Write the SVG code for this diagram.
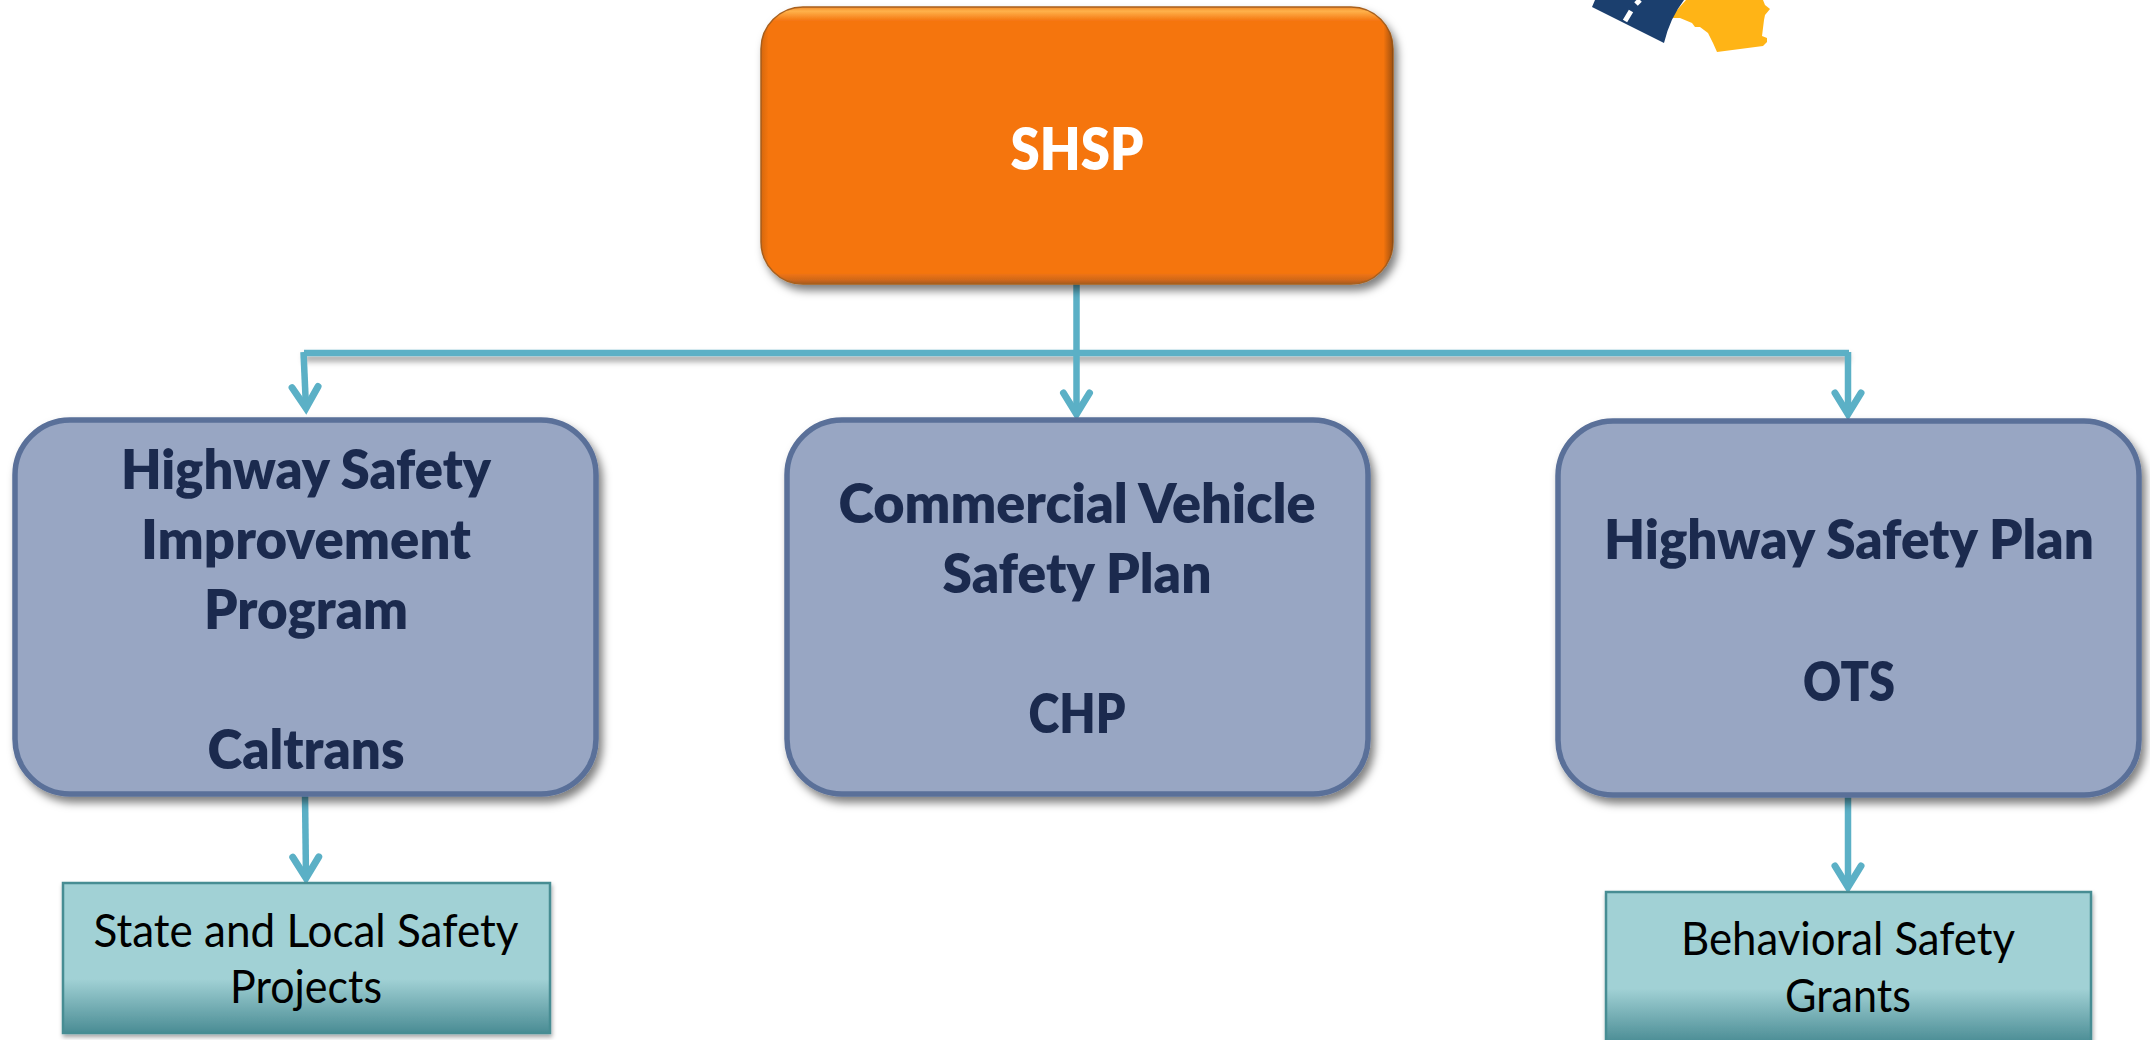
<svg xmlns="http://www.w3.org/2000/svg" width="2150" height="1040" viewBox="0 0 2150 1040">
<style>
text{font-family:"Lato","Open Sans","Liberation Sans",sans-serif;text-anchor:middle}
.h{font-weight:800;font-size:54px;fill:#1B2A4E}
.s{font-weight:400;font-size:46px;fill:#000}
.blue{fill:#98A6C3;stroke:#5A7099;stroke-width:5.5;filter:url(#sh)}
.teal{fill:url(#tg);stroke:#468D93;stroke-width:2.5;filter:url(#sh2)}
.c{fill:none;stroke:#5BB0C6;stroke-width:6.5}
</style>
<defs>
<linearGradient id="og" x1="0" y1="0" x2="0" y2="1">
<stop offset="0" stop-color="#F28A2A"/><stop offset="0.015" stop-color="#FFB24A"/><stop offset="0.05" stop-color="#F57510"/><stop offset="0.96" stop-color="#F57510"/><stop offset="0.985" stop-color="#D0681A"/><stop offset="1" stop-color="#A85A1A"/>
</linearGradient>
<linearGradient id="oe" x1="0" y1="0" x2="1" y2="0">
<stop offset="0" stop-color="#9A5010" stop-opacity="0.35"/><stop offset="0.012" stop-color="#9A5010" stop-opacity="0"/><stop offset="0.985" stop-color="#7A4010" stop-opacity="0"/><stop offset="1" stop-color="#7A4010" stop-opacity="0.7"/>
</linearGradient>
<linearGradient id="tg" x1="0" y1="0" x2="0" y2="1">
<stop offset="0" stop-color="#A1D1D5"/><stop offset="0.64" stop-color="#A1D1D5"/><stop offset="1" stop-color="#4A8C94"/>
</linearGradient>
<filter id="sh" x="-5%" y="-5%" width="112%" height="115%"><feDropShadow dx="4" dy="6" stdDeviation="4.5" flood-color="#000" flood-opacity="0.5"/></filter>
<filter id="sh2" x="-5%" y="-5%" width="110%" height="115%"><feDropShadow dx="1" dy="3" stdDeviation="2" flood-color="#000" flood-opacity="0.35"/></filter>
<filter id="shl" filterUnits="userSpaceOnUse" x="290" y="340" width="1570" height="40"><feDropShadow dx="0" dy="5" stdDeviation="3" flood-color="#000" flood-opacity="0.4"/></filter>
<marker id="ah" markerUnits="userSpaceOnUse" viewBox="-30 -18 40 36" refX="0" refY="0" markerWidth="40" markerHeight="36" orient="auto">
<path d="M-21,-13 L0,0 L-21,13" fill="none" stroke="#5BB0C6" stroke-width="7" stroke-linecap="round"/>
</marker>
</defs>
<rect width="2150" height="1040" fill="#fff"/>
<g id="logo">
<path d="M1686,0 L1670,18 L1680,18 L1692,23 L1695,27 L1700,27 L1708,33 L1713,43 L1717,52 L1763,46 L1767,42 L1767,38 L1762,36 L1764,20 L1765,15 L1770,9 L1765,5 L1763,0 Z" fill="#FFB416"/>
<path d="M1592,7 L1595,0 L1684,0 Q1670,18 1664,43 Z" fill="#1B3F6E"/>
<path d="M1625,21 L1631,11 M1636,4 L1640,0" stroke="#fff" stroke-width="5" fill="none"/>
</g>
<g id="connectors">
<path class="c" d="M304,353 H1849" filter="url(#shl)"/>
<path class="c" d="M1076.5,284 V414" marker-end="url(#ah)"/>
<path class="c" d="M303.5,352 L306,408" marker-end="url(#ah)"/>
<path class="c" d="M1848,352 V414" marker-end="url(#ah)"/>
<path class="c" d="M305,794 L306,878" marker-end="url(#ah)"/>
<path class="c" d="M1848,795 V887" marker-end="url(#ah)"/>
</g>
<g id="node-shsp">
<rect x="761" y="7" width="632" height="277" rx="42" fill="url(#og)" stroke="#A8601E" stroke-width="1.5" filter="url(#sh)"/>
<rect x="761" y="7" width="632" height="277" rx="42" fill="url(#oe)"/>
<text x="1077" y="170" font-weight="800" font-size="58" fill="#fff" textLength="133" lengthAdjust="spacingAndGlyphs">SHSP</text>
</g>
<g id="node-hsip">
<rect class="blue" x="15" y="420" width="581" height="374" rx="55"/>
<text class="h" x="306" y="489" textLength="370" lengthAdjust="spacingAndGlyphs">Highway Safety</text>
<text class="h" x="306" y="559" textLength="330" lengthAdjust="spacingAndGlyphs">Improvement</text>
<text class="h" x="306" y="629" textLength="204" lengthAdjust="spacingAndGlyphs">Program</text>
<text class="h" x="306" y="769" textLength="197" lengthAdjust="spacingAndGlyphs">Caltrans</text>
</g>
<g id="node-cvsp">
<rect class="blue" x="787" y="420" width="581" height="374" rx="55"/>
<text class="h" x="1077" y="523" textLength="477" lengthAdjust="spacingAndGlyphs">Commercial Vehicle</text>
<text class="h" x="1077" y="593" textLength="269" lengthAdjust="spacingAndGlyphs">Safety Plan</text>
<text class="h" x="1077" y="733" textLength="97" lengthAdjust="spacingAndGlyphs">CHP</text>
</g>
<g id="node-hsp">
<rect class="blue" x="1558" y="421" width="581" height="374" rx="55"/>
<text class="h" x="1849" y="559" textLength="490" lengthAdjust="spacingAndGlyphs">Highway Safety Plan</text>
<text class="h" x="1849" y="701" textLength="92" lengthAdjust="spacingAndGlyphs">OTS</text>
</g>
<g id="node-projects">
<rect class="teal" x="63" y="883" width="487" height="150"/>
<text class="s" x="306" y="947" textLength="425" lengthAdjust="spacingAndGlyphs">State and Local Safety</text>
<text class="s" x="306" y="1003" textLength="152" lengthAdjust="spacingAndGlyphs">Projects</text>
</g>
<g id="node-grants">
<rect class="teal" x="1606" y="892" width="485" height="151"/>
<text class="s" x="1848" y="955" textLength="334" lengthAdjust="spacingAndGlyphs">Behavioral Safety</text>
<text class="s" x="1848" y="1012" textLength="126" lengthAdjust="spacingAndGlyphs">Grants</text>
</g>
</svg>
